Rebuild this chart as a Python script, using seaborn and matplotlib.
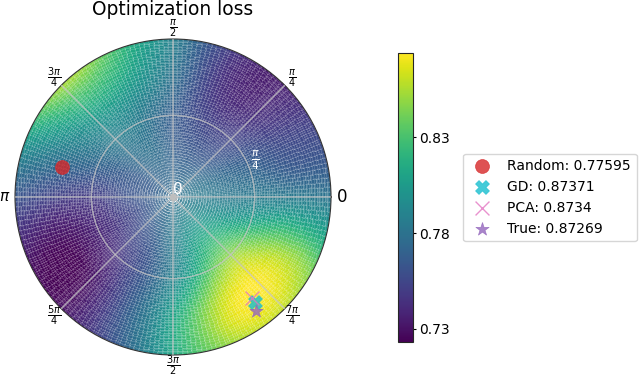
import numpy as np
import matplotlib
matplotlib.use("Agg")
import matplotlib.pyplot as plt
import matplotlib.tri as mtri
import seaborn as sns

title = "Optimization loss"
angle_labels = [r"$0$", r"$\frac{\pi}{4}$", r"$\frac{\pi}{2}$", r"$\frac{3\pi}{4}$", r"$\pi$",
                r"$\frac{5\pi}{4}$", r"$\frac{3\pi}{2}$", r"$\frac{7\pi}{4}$"]
angle_sizes = [12, 10, 10, 10, 11, 10, 10, 10]
cbar_ticks = [0.73, 0.78, 0.83]
vmin_read, vmax_read = 0.7232, 0.8738

# loss values: angle (degrees) by radius
angles_deg = [0, 22.5, 45, 67.5, 90, 112.5, 135, 157.5, 180, 202.5, 225, 247.5, 270, 292.5, 315, 337.5]
center_loss = 0.777
loss_r038 = [.785, .778, .770, .768, .770, .775, .772, .765, .762, .758, .762, .770, .785, .800, .805, .797]
loss_r076 = [.785, .770, .755, .755, .767, .782, .785, .770, .750, .740, .745, .762, .790, .825, .845, .820]
loss_r114 = [.785, .760, .742, .745, .778, .805, .810, .785, .752, .727, .730, .765, .810, .858, .873, .842]
loss_r160 = [.780, .755, .735, .750, .790, .835, .865, .815, .765, .735, .732, .760, .812, .845, .853, .825]
radii = [0.38, 0.76, 1.14, 1.60]

method_names = ["Random: 0.77595", "GD: 0.87371", "PCA: 0.8734", "True: 0.87269"]
method_theta = [2.878, -0.909, -0.907, -0.942]
method_r = [1.106, 1.277, 1.234, 1.357]
method_colors = ["tab:red", "tab:cyan", "tab:pink", "tab:purple"]
method_markers = ["o", "X", "x", "*"]

sns.set_style("white")
plt.rcParams["font.family"] = "DejaVu Sans"
plt.rcParams["mathtext.fontset"] = "dejavusans"
plt.rcParams["text.color"] = "black"
plt.rcParams["xtick.color"] = "black"
plt.rcParams["ytick.color"] = "black"

W, H = 640, 374
fig = plt.figure(figsize=(W / 100, H / 100), dpi=100)
ax = fig.add_axes([15 / W, 1 - 355 / H, 316 / W, 316 / H], projection="polar")

rings = [loss_r038, loss_r076, loss_r114, loss_r160]
th = np.deg2rad(np.array(angles_deg))
pt_th = np.array([0.0] + [t for _ in radii for t in th])
pt_r = np.array([0.0] + [r for r in radii for _ in th])
pt_z = np.array([center_loss] + [v for ring in rings for v in ring])

# smooth display of the table through matplotlib's triangulated field
cart = mtri.Triangulation(pt_r * np.cos(pt_th), pt_r * np.sin(pt_th))
field = mtri.CubicTriInterpolator(cart, pt_z, kind="min_E")
n_th, n_r = 200, 60
T, R = np.meshgrid(np.linspace(0, 2 * np.pi, n_th + 1), np.linspace(0, 1.52, n_r + 1))
Tc = 0.5 * (T[:-1, :-1] + T[1:, 1:])
Rc = 0.5 * (R[:-1, :-1] + R[1:, 1:])
Z = np.clip(field(Rc * np.cos(Tc), Rc * np.sin(Tc)), vmin_read, vmax_read)

# thin light cell edges give the speckled texture of the original mesh
mesh = ax.pcolormesh(T, R, Z, shading="flat", cmap="viridis", vmin=vmin_read, vmax=vmax_read,
                     edgecolors=(1, 1, 1, 0.14), linewidth=0.14)

for name, t, r, c, m in zip(method_names, method_theta, method_r, method_colors, method_markers):
    if m == "x":
        sns.scatterplot(x=[t], y=[r], ax=ax, color=c, marker=m, s=100, alpha=0.8, label=name, zorder=5,
                        linewidth=1)
    else:
        sns.scatterplot(x=[t], y=[r], ax=ax, color=c, marker=m, s=100, alpha=0.8, label=name, zorder=5,
                        edgecolor=c, linewidth=0.5)

ax.set_ylim(0, 1.52)
ax.set_yticks([0, np.pi / 4])
ax.set_yticklabels(["0", r"$\frac{\pi}{4}$"], color="white", fontsize=11)
ax.set_rlabel_position(18)
ax.set_xticks(np.deg2rad(np.arange(0, 360, 45)))
ax.set_xticklabels(angle_labels)
for lab, size in zip(ax.get_xticklabels(), angle_sizes):
    lab.set_fontsize(size)
ax.tick_params(axis="x", pad=-3)
ax.grid(True, color="#c4c4c4", linewidth=1.1, alpha=0.7)
ax.set_axisbelow(False)
ax.plot([0], [0], marker="o", markersize=4.5, color="#bdbdbd", alpha=0.85, zorder=4)
ax.spines["polar"].set_linewidth(0.8)
ax.spines["polar"].set_color("#333333")
ax.set_title(title, fontsize=13.4, y=1.075, pad=0)

cax = fig.add_axes([398 / W, 1 - 342 / H, 15 / W, 289 / H])
cb = fig.colorbar(mesh, cax=cax, ticks=cbar_ticks)
cb.ax.set_yticklabels([f"{v:.2f}" for v in cbar_ticks], fontsize=10)
cb.ax.tick_params(length=2.5, width=0.8, left=False, right=True, pad=2)
cb.outline.set_linewidth(0.8)

handles, labels = ax.get_legend_handles_labels()
ax.get_legend().remove()
fig.legend(handles, labels, loc="center left", bbox_to_anchor=(463 / W, 1 - 197.5 / H),
           fontsize=10, frameon=True, borderaxespad=0, handletextpad=0.8, labelspacing=0.5)

fig.savefig("out.png", dpi=100)
